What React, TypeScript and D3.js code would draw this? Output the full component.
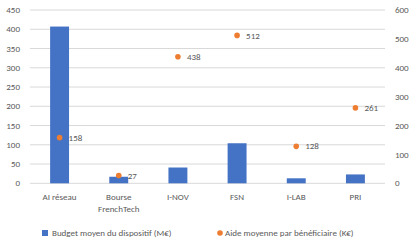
import React from "react";
import * as d3 from "d3";

const categories = ["AI réseau", "Bourse\nFrenchTech", "I-NOV", "FSN", "I-LAB", "PRI"];
const budget = [407, 17, 41, 104, 13, 23];
const aide = [158, 27, 438, 512, 128, 261];
const leftTicks = [0, 50, 100, 150, 200, 250, 300, 350, 400, 450];
const rightTicks = [0, 100, 200, 300, 400, 500, 600];
const legendLabels = ["Budget moyen du dispositif (M€)", "Aide moyenne par bénéficiaire (K€)"];

export default function App() {
  const W = 416, H = 247;
  const x0 = 30, x1 = 385, yTop = 10, yBot = 183.3;
  const x = d3.scaleBand<string>().domain(categories).range([x0, x1]).paddingInner(0.68).paddingOuter(0.34);
  const yL = d3.scaleLinear().domain([0, 450]).range([yBot, yTop]);
  const yR = d3.scaleLinear().domain([0, 600]).range([yBot, yTop]);
  const font = "Carlito, 'Liberation Sans Narrow', 'Liberation Sans', sans-serif";
  const txt = "#595959";
  const cx = (c: string) => (x(c) as number) + x.bandwidth() / 2;
  return (
    <svg width={W} height={H} style={{ position: "absolute", left: 0, top: 0, background: "#fff" }} fontFamily={font}>
      {leftTicks.map((t) => (
        <g key={"l" + t}>
          <line x1={x0} x2={x1} y1={yL(t)} y2={yL(t)} stroke="#d9d9d9" strokeWidth={1} />
          <text x={20} y={yL(t)} dy="0.35em" textAnchor="end" fontSize={9} fill={txt}>{t}</text>
        </g>
      ))}
      {rightTicks.map((t) => (
        <text key={"r" + t} x={395} y={yR(t)} dy="0.35em" textAnchor="start" fontSize={9} fill={txt}>{t}</text>
      ))}
      {categories.map((c, i) => (
        <rect key={"b" + c} x={x(c)} y={yL(budget[i])} width={x.bandwidth()} height={yBot - yL(budget[i])} fill="#4472C4" />
      ))}
      {categories.map((c, i) => (
        <g key={"p" + c}>
          <circle cx={cx(c)} cy={yR(aide[i])} r={2.8} fill="#ED7D31" />
          <text x={cx(c) + 9} y={yR(aide[i])} dy="0.35em" fontSize={9} fill={txt}>{aide[i]}</text>
        </g>
      ))}
      {categories.map((c) => (
        <text key={"c" + c} x={cx(c)} y={200} textAnchor="middle" fontSize={9} fill={txt}>
          {c.split("\n").map((line, j) => (
            <tspan key={j} x={cx(c)} dy={j === 0 ? 0 : 11.5}>{line}</tspan>
          ))}
        </text>
      ))}
      <rect x={42} y={230} width={6} height={6} fill="#4472C4" />
      <text x={52} y={233} dy="0.35em" fontSize={9} fill={txt}>{legendLabels[0]}</text>
      <circle cx={220} cy={233} r={2.8} fill="#ED7D31" />
      <text x={225} y={233} dy="0.35em" fontSize={9} fill={txt}>{legendLabels[1]}</text>
    </svg>
  );
}
